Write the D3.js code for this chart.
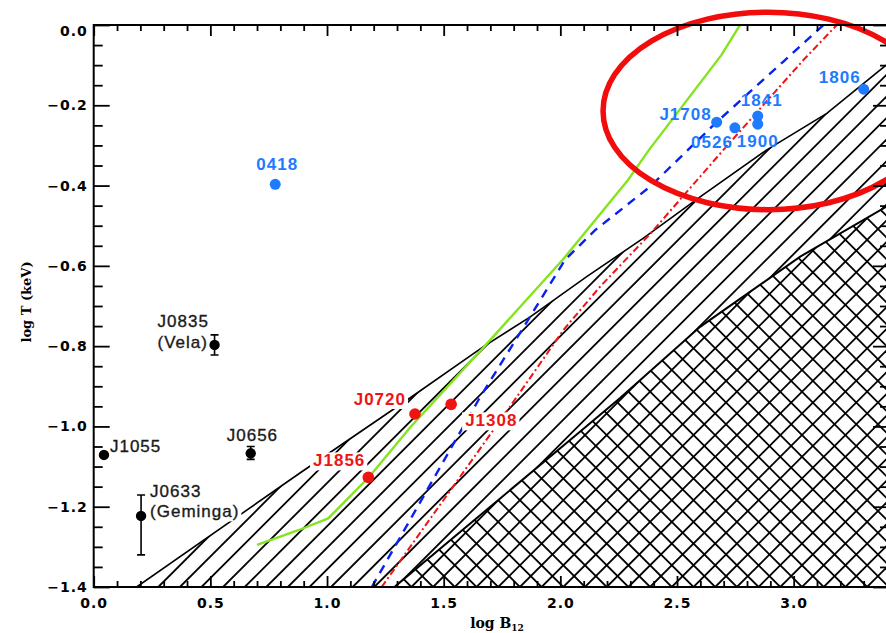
<!DOCTYPE html>
<html><head><meta charset="utf-8">
<script src="https://cdn.jsdelivr.net/npm/d3@7"></script>
<style>body{margin:0;background:#fff}svg{display:block}</style>
</head><body>
<svg id="c" width="886" height="633"></svg>
<script>
// ---------- data ----------
const xMajorTicks = [0, 0.5, 1.0, 1.5, 2.0, 2.5, 3.0];
const yMajorTicks = [0, -0.2, -0.4, -0.6, -0.8, -1.0, -1.2, -1.4];

const blackNames = ["J1055", "J0633", "J0835", "J0656"];
const blackSub   = ["", "(Geminga)", "(Vela)", ""];
const blackX     = [0.044, 0.203, 0.518, 0.673];
const blackY     = [-1.071, -1.223, -0.797, -1.067];
const blackYLo   = [-1.071, -1.320, -0.822, -1.082];
const blackYHi   = [-1.071, -1.171, -0.772, -1.050];

const blueNames = ["0418", "J1708", "0526", "1841", "1900", "1806"];
const blueX     = [0.778, 2.670, 2.748, 2.846, 2.846, 3.300];
const blueY     = [-0.397, -0.242, -0.256, -0.227, -0.247, -0.160];

const redNames = ["J0720", "J1308", "J1856"];
const redX     = [1.377, 1.532, 1.177];
const redY     = [-0.969, -0.945, -1.127];

// upper boundary of single-hatched region
const hatchTopX = [0.184, 0.884, 1.363, 1.669, 1.871, 2.113, 2.356, 2.599, 2.885, 3.142, 3.396];
const hatchTopY = [-1.400, -1.116, -0.926, -0.802, -0.727, -0.627, -0.531, -0.428, -0.311, -0.220, -0.100];
// upper boundary of cross-hatched region
const crossTopX = [1.291, 2.084, 2.256, 2.599, 3.028, 3.396];
const crossTopY = [-1.399, -1.013, -0.929, -0.752, -0.577, -0.453];

// green solid curve
const greenX = [0.70, 0.88, 1.005, 1.07, 1.18, 1.36, 1.66, 2.01, 2.29, 2.38, 2.69, 2.77];
const greenY = [-1.295, -1.258, -1.229, -1.191, -1.126, -1.00, -0.81, -0.585, -0.386, -0.311, -0.075, 0.0];
// blue dashed curve
const blueLineX = [1.192, 1.656, 1.870, 2.020, 2.149, 2.384, 2.670, 2.956, 3.135];
const blueLineY = [-1.400, -0.927, -0.727, -0.585, -0.511, -0.403, -0.242, -0.091, 0.004];
// red dash-dot curve
const redLineX = [1.234, 1.784, 2.013, 2.170, 2.384, 2.699, 3.042, 3.185];
const redLineY = [-1.400, -0.951, -0.760, -0.652, -0.521, -0.311, -0.087, 0.0];

// highlight ellipse (data units)
const ellipseC = [2.89, -0.214];
const ellipseR = [0.707, 0.246];

// ---------- layout ----------
const X0 = 93.7, X1 = 887, Y0 = 25, Y1 = 587;
const x = d3.scaleLinear().domain([0, 3.4]).range([X0, X1]);
const y = d3.scaleLinear().domain([-1.4, 0]).range([Y1, Y0]);
const svg = d3.select("#c");
const zip = (a, b) => a.map((v, i) => [v, b[i]]);
const line = d3.line().x(d => x(d[0])).y(d => y(d[1]));

const defs = svg.append("defs");
defs.append("clipPath").attr("id", "plot").append("rect")
  .attr("x", X0).attr("y", Y0).attr("width", X1 - X0).attr("height", Y1 - Y0);

// polygons
const hatchPoly = zip(hatchTopX, hatchTopY).concat([[3.4, hatchTopY[hatchTopY.length - 1]], [3.4, -1.4]]);
const crossPoly = zip(crossTopX, crossTopY).concat([[3.4, crossTopY[crossTopY.length - 1]], [3.4, -1.4]]);
defs.append("clipPath").attr("id", "hclip").append("path").attr("d", line(hatchPoly) + "Z");
defs.append("clipPath").attr("id", "cclip").append("path").attr("d", line(crossPoly) + "Z");

const plot = svg.append("g").attr("clip-path", "url(#plot)");

function hatch(g, dir, spacing, anchor) {
  const H = Y1 - Y0;
  let b = anchor - Math.ceil((anchor - (X0 - H - spacing)) / spacing) * spacing;
  for (; b < X1 + H + spacing; b += spacing) {
    if (dir > 0) g.append("line").attr("x1", b).attr("y1", Y1).attr("x2", b + H).attr("y2", Y0);
    else g.append("line").attr("x1", b - H).attr("y1", Y0).attr("x2", b).attr("y2", Y1);
  }
}
const hg = plot.append("g").attr("clip-path", "url(#hclip)")
  .attr("stroke", "#000").attr("stroke-width", 1.8);
hatch(hg, 1, 21.6, 158.3);

plot.append("path").attr("d", line(crossPoly) + "Z").attr("fill", "#fff");
const cg = plot.append("g").attr("clip-path", "url(#cclip)")
  .attr("stroke", "#000").attr("stroke-width", 1.8);
hatch(cg, 1, 21.7, 585);
hatch(cg, -1, 21.7, 585);

plot.append("path").attr("d", line(zip(hatchTopX, hatchTopY)))
  .attr("fill", "none").attr("stroke", "#000").attr("stroke-width", 1.6);
plot.append("path").attr("d", line(zip(crossTopX, crossTopY)))
  .attr("fill", "none").attr("stroke", "#000").attr("stroke-width", 2);

// curves
plot.append("path").attr("d", line(zip(greenX, greenY)))
  .attr("fill", "none").attr("stroke", "#84e41e").attr("stroke-width", 2.4);
plot.append("path").attr("d", line(zip(blueLineX, blueLineY)))
  .attr("fill", "none").attr("stroke", "#0a22f0").attr("stroke-width", 2.4)
  .attr("stroke-dasharray", "9,7");
plot.append("path").attr("d", line(zip(redLineX, redLineY)))
  .attr("fill", "none").attr("stroke", "#f01414").attr("stroke-width", 2)
  .attr("stroke-dasharray", "7,3,2,3");

// black points with error bars
const bk = plot.append("g");
blackX.forEach((v, i) => {
  if (blackYHi[i] !== blackYLo[i]) {
    bk.append("line").attr("x1", x(v)).attr("x2", x(v)).attr("y1", y(blackYLo[i])).attr("y2", y(blackYHi[i]))
      .attr("stroke", "#000").attr("stroke-width", 1.6);
    [blackYLo[i], blackYHi[i]].forEach(e => bk.append("line")
      .attr("x1", x(v) - 4).attr("x2", x(v) + 4).attr("y1", y(e)).attr("y2", y(e))
      .attr("stroke", "#000").attr("stroke-width", 1.6));
  }
  bk.append("circle").attr("cx", x(v)).attr("cy", y(blackY[i])).attr("r", 5.2).attr("fill", "#000");
});
blueX.forEach((v, i) => plot.append("circle").attr("cx", x(v)).attr("cy", y(blueY[i])).attr("r", 5.5).attr("fill", "#1e7bff"));
redX.forEach((v, i) => plot.append("circle").attr("cx", x(v)).attr("cy", y(redY[i])).attr("r", 5.8).attr("fill", "#ee1414"));

// labels
const lab = svg.append("g").attr("font-family", "'Liberation Sans', Arial, sans-serif")
  .attr("font-size", 17).attr("letter-spacing", 1);
function label(txt, px, py, anchor, color, bold, box) {
  const t = lab.append("text").attr("x", px).attr("y", py).attr("text-anchor", anchor)
    .attr("fill", color).attr("font-weight", bold ? "bold" : "normal").text(txt);
  if (!bold) t.attr("stroke", color).attr("stroke-width", 0.35);
  if (box) {
    const bb = t.node().getBBox();
    lab.insert("rect", () => t.node()).attr("x", bb.x - 3).attr("y", bb.y + 1)
      .attr("width", bb.width + 5).attr("height", bb.height - 1).attr("fill", "#fff");
  }
  return t;
}
// black label offsets [dx, dy, anchor, subDy]
const blackOff = [[6, -3, "start", 0], [9, -19, "start", 20.5], [-57, -18, "start", 21.5], [-24, -12, "start", 0]];
blackNames.forEach((n, i) => {
  const o = blackOff[i], px = x(blackX[i]) + o[0], py = y(blackY[i]) + o[1];
  label(n, px, py, o[2], "#1a1a1a", false, i === 1);
  if (blackSub[i]) label(blackSub[i], px, py + o[3], o[2], "#1a1a1a", false, i === 1);
});
const blueOff = [[2, -14, "middle"], [-5, -2, "end"], [-2, 20, "end"], [4, -10, "middle"], [0, 23, "middle"], [-3, -6, "end"]];
blueNames.forEach((n, i) => {
  const o = blueOff[i];
  label(n, x(blueX[i]) + o[0], y(blueY[i]) + o[1], o[2], "#1e7bff", true, false);
});
const redOff = [[-9, -9, "end"], [14, 22, "start"], [-3, -11, "end"]];
redNames.forEach((n, i) => {
  const o = redOff[i];
  label(n, x(redX[i]) + o[0], y(redY[i]) + o[1], o[2], "#ee1414", true, true);
});

// ellipse
svg.append("ellipse")
  .attr("cx", x(ellipseC[0])).attr("cy", y(ellipseC[1]))
  .attr("rx", x(ellipseC[0] + ellipseR[0]) - x(ellipseC[0]))
  .attr("ry", y(ellipseC[1] - ellipseR[1]) - y(ellipseC[1]))
  .attr("fill", "none").attr("stroke", "#f20c0c").attr("stroke-width", 5.5);

// ---------- axes ----------
const xMinor = d3.range(0, 35).map(i => i / 10).filter(v => Math.abs(v * 2 - Math.round(v * 2)) > 1e-6);
const yMinor = d3.range(0, 29).map(i => -i / 20).filter(v => Math.abs(v * 5 - Math.round(v * 5)) > 1e-6);
const fmt = d3.format(".1f");
function styleAxis(g) {
  g.select(".domain").remove();
  g.selectAll("line").attr("stroke", "#000").attr("stroke-width", 1.8);
  g.selectAll("text").attr("font-family", "'DejaVu Sans', sans-serif").attr("font-weight", "bold")
    .attr("font-size", 14).attr("letter-spacing", 1).attr("fill", "#000");
}
svg.append("g").attr("transform", `translate(0,${Y1})`)
  .call(d3.axisBottom(x).tickValues(xMajorTicks).tickSizeInner(-11).tickSizeOuter(0).tickPadding(11).tickFormat(fmt)).call(styleAxis);
svg.append("g").attr("transform", `translate(0,${Y1})`)
  .call(d3.axisBottom(x).tickValues(xMinor).tickSizeInner(-6).tickSizeOuter(0).tickFormat("")).call(styleAxis);
svg.append("g").attr("transform", `translate(0,${Y0})`)
  .call(d3.axisTop(x).tickValues(xMajorTicks).tickSizeInner(-11).tickSizeOuter(0).tickFormat("")).call(styleAxis);
svg.append("g").attr("transform", `translate(0,${Y0})`)
  .call(d3.axisTop(x).tickValues(xMinor).tickSizeInner(-6).tickSizeOuter(0).tickFormat("")).call(styleAxis);
const yAx = svg.append("g").attr("transform", `translate(${X0},0)`)
  .call(d3.axisLeft(y).tickValues(yMajorTicks).tickSizeInner(-16).tickSizeOuter(0).tickPadding(6).tickFormat(fmt)).call(styleAxis);
// top label sits just inside the figure
yAx.selectAll(".tick").filter(d => d === 0).select("text").attr("dy", "0.75em");
svg.append("g").attr("transform", `translate(${X0},0)`)
  .call(d3.axisLeft(y).tickValues(yMinor).tickSizeInner(-9).tickSizeOuter(0).tickFormat("")).call(styleAxis);
svg.append("g").attr("transform", `translate(${X1},0)`)
  .call(d3.axisRight(y).tickValues(yMajorTicks).tickSizeInner(-14).tickSizeOuter(0).tickFormat("")).call(styleAxis);
svg.append("g").attr("transform", `translate(${X1},0)`)
  .call(d3.axisRight(y).tickValues(yMinor).tickSizeInner(-7).tickSizeOuter(0).tickFormat("")).call(styleAxis);

svg.append("rect").attr("x", X0).attr("y", Y0).attr("width", X1 - X0).attr("height", Y1 - Y0)
  .attr("fill", "none").attr("stroke", "#000").attr("stroke-width", 2);

// axis titles
const xt = svg.append("text").attr("x", 497).attr("y", 628).attr("text-anchor", "middle")
  .attr("font-family", "'DejaVu Serif', serif").attr("font-weight", "bold").attr("font-size", 14)
  .attr("fill", "#000");
xt.append("tspan").text("log B");
xt.append("tspan").attr("font-size", 9).attr("dy", 3).text("12");
svg.append("text").attr("transform", "translate(31,302) rotate(-90)").attr("text-anchor", "middle")
  .attr("font-family", "'DejaVu Serif', serif").attr("font-weight", "bold").attr("font-size", 13)
  .attr("fill", "#000").text("log T (keV)");
</script>
</body></html>
